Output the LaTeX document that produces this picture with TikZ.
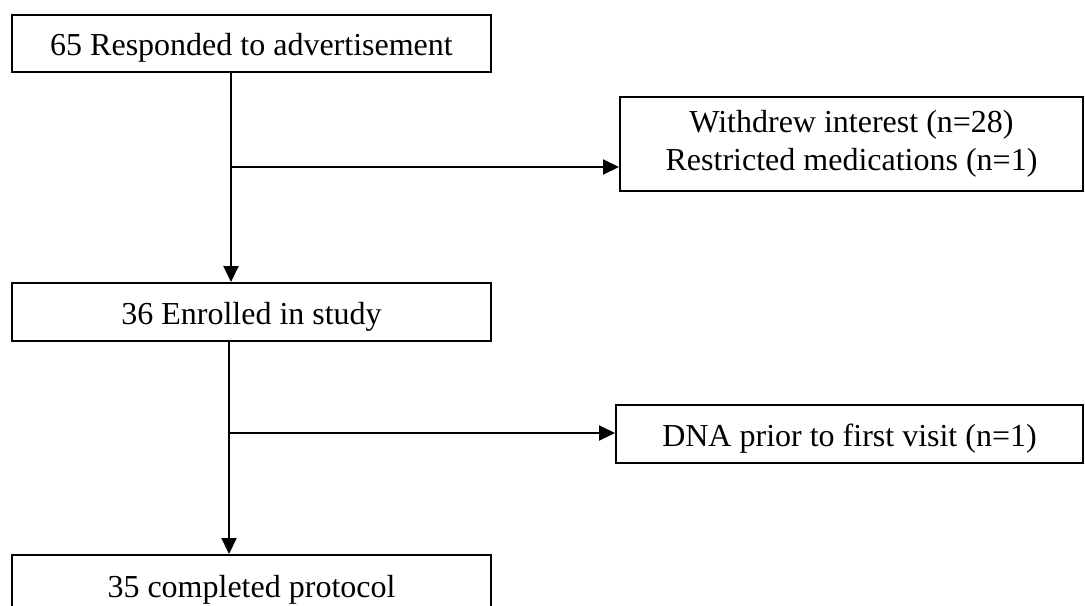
\documentclass[tikz,border=0pt]{standalone}
\usepackage{fontspec}
\setmainfont{Liberation Serif}
\usetikzlibrary{arrows.meta,positioning,calc}

\begin{document}
\begin{tikzpicture}[x=0.5pt, y=-0.5pt, font=\fontsize{16}{19}\selectfont,
  box/.style={draw, line width=1pt, align=center, inner sep=2pt, minimum width=239.5pt, minimum height=29pt},
  oneline/.style={text height=12pt, text depth=0pt},
  flow/.style={line width=1pt, -{Triangle[length=8pt, width=7.5pt]}}]
  \useasboundingbox (0,0) rectangle (1085,605);
  \node[box, oneline, minimum height=28.5pt] (resp) at (251.5,43.5) {65 Responded to advertisement};
  \node[box, minimum width=231.5pt, minimum height=47pt] (excl1) at (851.5,144) {Withdrew interest (n=28)\\ Restricted medications (n=1)};
  \node[box, oneline] (enrol) at (251.5,312) {36 Enrolled in study};
  \node[box, oneline, minimum width=233.5pt] (excl2) at (849.5,434) {DNA prior to first visit (n=1)};
  \node[box, oneline, minimum height=30pt] (done) at (251.5,585) {35 completed protocol};
  \coordinate (split1) at (231,167);
  \coordinate (split2) at (229,433);
  \draw[flow] ([xshift=-10.25pt]resp.south) -- ([xshift=-10.25pt]enrol.north);
  \draw[flow] (split1) -- (split1 -| excl1.west);
  \draw[flow] ([xshift=-11.25pt]enrol.south) -- ([xshift=-11.25pt]done.north);
  \draw[flow] (split2) -- (split2 -| excl2.west);
\end{tikzpicture}
\end{document}
